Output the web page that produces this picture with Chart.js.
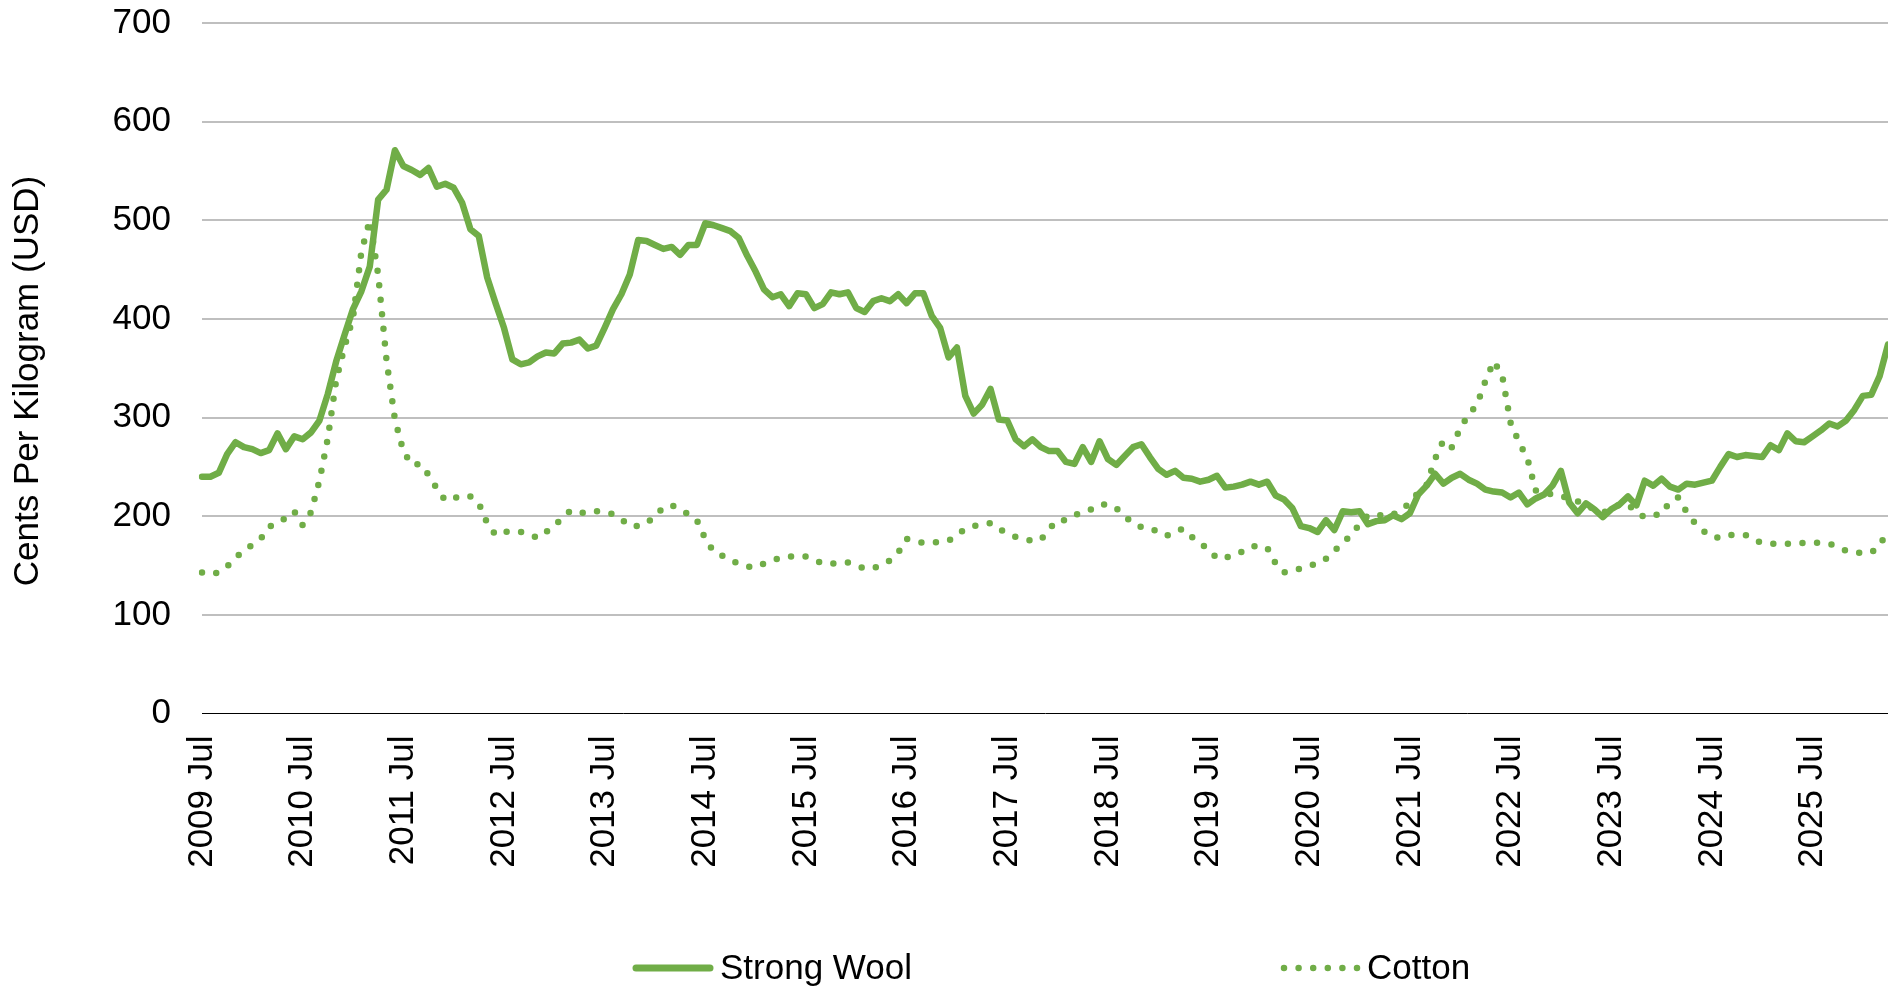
<!DOCTYPE html>
<html>
<head>
<meta charset="utf-8">
<script src="https://cdn.jsdelivr.net/npm/chart.js@4.4.1/dist/chart.umd.min.js"></script>
<style>
  html, body { margin: 0; padding: 0; background: #ffffff; }
  #wrap { position: relative; width: 1888px; height: 987px; }
</style>
</head>
<body>
<div id="wrap"><canvas id="chart"></canvas></div>
<script>
// ---- Data (monthly, starting 2009 Jul) ----
const startYear = 2009;
const startMonthIndex = 6; // Jul
const monthNames = ['Jan','Feb','Mar','Apr','May','Jun','Jul','Aug','Sep','Oct','Nov','Dec'];

const strongWool = [
  240,240,244,263,275,270,268,264,267,284,268,281,
  278,285,297,324,357,384,410,428,453,521,531,571,
  555,551,546,553,534,537,533,518,491,484,442,416,
  391,359,354,356,362,366,365,375,376,379,370,373,
  391,410,425,445,480,479,475,471,473,465,475,475,
  497,495,492,489,482,464,448,430,422,425,413,426,
  425,411,415,427,425,427,411,407,418,421,418,425,
  416,426,426,403,391,361,371,322,304,313,329,298,
  297,278,271,278,270,266,266,255,253,270,255,276,
  258,252,261,270,273,260,248,242,246,239,238,235,
  237,241,229,230,232,235,232,235,221,217,208,190,
  188,184,196,186,205,204,205,192,195,196,201,197,
  203,222,231,243,233,239,243,237,233,227,225,224,
  219,224,212,218,222,231,246,214,203,213,207,199,
  207,212,220,211,236,231,238,230,227,233,232,234,
  236,250,263,260,262,261,260,272,267,284,276,275,
  281,287,294,291,297,308,322,323,342,374
];

const cotton = [
  143,141,143,149,158,165,171,177,189,194,198,205,
  191,204,236,279,338,372,401,468,500,445,358,298,
  266,252,253,242,228,216,218,221,220,213,193,181,
  184,185,184,182,178,184,190,199,206,204,203,205,
  204,202,197,190,190,193,200,209,211,207,202,196,
  177,164,160,155,152,149,148,152,155,158,159,160,
  159,156,152,152,152,153,150,147,147,151,155,163,
  177,175,173,173,174,175,181,187,190,192,193,187,
  183,179,177,175,176,187,196,196,201,204,207,212,
  212,208,200,193,189,188,184,180,185,187,179,172,
  167,157,158,160,164,169,170,168,152,143,145,147,
  150,152,157,165,173,181,192,201,202,200,202,206,
  214,224,232,258,277,270,289,303,313,337,357,343,
  295,275,259,226,224,222,221,217,215,211,207,204,
  206,212,212,204,199,201,202,215,219,204,193,185,
  179,178,181,181,181,176,173,172,172,172,172,173,
  173,173,172,169,165,163,163,163,170,186
];

const yTickValues = [0, 100, 200, 300, 400, 500, 600, 700];
const seriesNames = ['Strong Wool', 'Cotton'];
const yAxisTitle = 'Cents Per Kilogram (USD)';

// category labels, e.g. "2009 Jul"
const categories = [];
for (let i = 0; i < strongWool.length; i++) {
  const mi = startMonthIndex + i;
  categories.push((startYear + Math.floor(mi / 12)) + ' ' + monthNames[mi % 12]);
}

// ---- Styling ----
const GREEN = '#70AD47';
const FONT_FAMILY = "'Liberation Sans', Arial, Helvetica, sans-serif";
Chart.defaults.font.family = FONT_FAMILY;
Chart.defaults.font.size = 35;
Chart.defaults.color = '#000000';

const decorPlugin = {
  id: 'decor',
  afterDraw(chart) {
    const ctx = chart.ctx;
    ctx.save();
    // Y axis title
    ctx.fillStyle = '#000000';
    ctx.font = '35px ' + FONT_FAMILY;
    ctx.translate(28, 381);
    ctx.rotate(-Math.PI / 2);
    ctx.textAlign = 'center';
    ctx.textBaseline = 'middle';
    ctx.fillText(yAxisTitle, 0, 0);
    ctx.restore();

    // Legend
    ctx.save();
    const ly = 968;
    ctx.strokeStyle = GREEN;
    ctx.lineCap = 'round';
    // Strong Wool sample (solid)
    ctx.lineWidth = 7;
    ctx.beginPath();
    ctx.moveTo(636, ly);
    ctx.lineTo(710, ly);
    ctx.stroke();
    // Cotton sample (dotted)
    ctx.lineWidth = 6.5;
    ctx.setLineDash([0, 14.6]);
    ctx.beginPath();
    ctx.moveTo(1284, ly);
    ctx.lineTo(1360, ly);
    ctx.stroke();
    ctx.setLineDash([]);
    ctx.fillStyle = '#000000';
    ctx.font = '35px ' + FONT_FAMILY;
    ctx.textAlign = 'left';
    ctx.textBaseline = 'alphabetic';
    ctx.fillText(seriesNames[0], 720, 979);
    ctx.fillText(seriesNames[1], 1367, 979);
    ctx.restore();
  }
};

new Chart(document.getElementById('chart'), {
  type: 'line',
  data: {
    labels: categories,
    datasets: [
      {
        label: seriesNames[0],
        data: strongWool,
        borderColor: GREEN,
        backgroundColor: GREEN,
        borderWidth: 6.5,
        borderJoinStyle: 'round',
        borderCapStyle: 'round',
        pointRadius: 0,
        tension: 0,
        order: 2
      },
      {
        label: seriesNames[1],
        data: cotton,
        borderColor: GREEN,
        backgroundColor: GREEN,
        borderWidth: 6.5,
        borderDash: [0, 14.6],
        borderCapStyle: 'round',
        borderJoinStyle: 'round',
        pointRadius: 0,
        tension: 0,
        order: 1
      }
    ]
  },
  options: {
    responsive: true,
    maintainAspectRatio: false,
    animation: false,
    layout: { padding: { top: 23, left: 0, right: 0, bottom: 0 } },
    plugins: {
      legend: { display: false },
      tooltip: { enabled: false }
    },
    scales: {
      x: {
        type: 'category',
        offset: false,
        grid: { display: false, drawTicks: false },
        border: { display: true, color: '#000000', width: 1 },
        ticks: {
          autoSkip: false,
          minRotation: 90,
          maxRotation: 90,
          padding: 22,
          color: '#000000',
          font: { size: 35 },
          callback: function (value, index) {
            const lab = categories[index];
            return lab.endsWith('Jul') ? lab : null;
          }
        },
        afterFit: function (scale) { scale.height = 273.5; }
      },
      y: {
        min: 0,
        max: 700,
        afterBuildTicks: function (scale) {
          scale.ticks = yTickValues.map(v => ({ value: v }));
        },
        grid: {
          drawTicks: true,
          tickLength: 31,
          tickColor: 'rgba(0,0,0,0)',
          color: (c) => (c.tick && c.tick.value === 0) ? 'rgba(0,0,0,0)' : '#bfbfbf',
          lineWidth: 2
        },
        border: { display: false },
        ticks: {
          padding: 0,
          color: '#000000',
          font: { size: 35 }
        },
        afterFit: function (scale) { scale.width = 202; }
      }
    }
  },
  plugins: [decorPlugin]
});
</script>
</body>
</html>
